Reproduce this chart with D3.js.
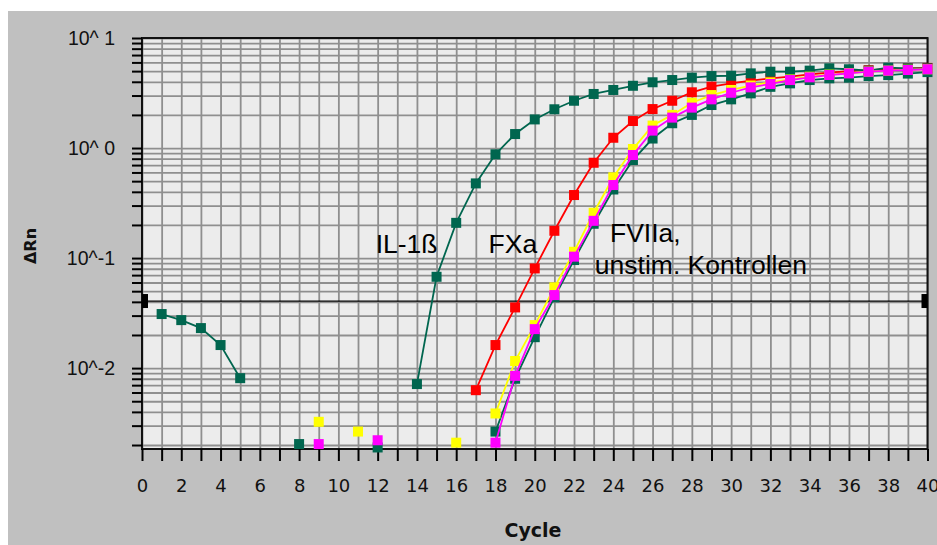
<!DOCTYPE html>
<html>
<head>
<meta charset="utf-8">
<script src="https://d3js.org/d3.v7.min.js"></script>
<style>
  body { margin: 0; background: #fff; }
  svg { display: block; }
  .grid line { stroke: #8f8f8f; stroke-width: 1.8; }
  .grid path { display: none; }
  .axis path { display: none; }
  .axis line { stroke: #000; stroke-width: 2; }
</style>
</head>
<body>
<div id="chart"></div>
<script>
  // cycle numbers on x
  const cycles = [0, 1, 2, 3, 4, 5, 6, 7, 8, 9, 10, 11, 12, 13, 14, 15, 16, 17, 18, 19, 20,
    21, 22, 23, 24, 25, 26, 27, 28, 29, 30, 31, 32, 33, 34, 35, 36, 37, 38, 39, 40];

  // delta Rn per cycle, null = not plotted
  const il1b = [null, 0.031, 0.0273, 0.0231, 0.0162, 0.0081, null, null, 0.00204, null, null,
    null, 0.0019, null, 0.00716, 0.0676, 0.209, 0.477, 0.877, 1.34, 1.82,
    2.25, 2.69, 3.1, 3.37, 3.68, 3.96, 4.15, 4.36, 4.51, 4.54,
    4.77, 4.94, 4.94, 5.05, 5.3, 5.2, 5.05, 5.37, 5.3, 5.3];
  const fxa = [null, null, null, null, null, null, null, null, null, null, null,
    null, null, null, null, null, null, 0.0063, 0.0162, 0.0356, 0.0805,
    0.177, 0.374, 0.735, 1.24, 1.76, 2.26, 2.69, 3.21, 3.61, 3.87,
    4.09, 4.3, 4.45, 4.67, 4.84, 5.0, 5.1, 5.2, 5.3, 5.35];
  const control = [null, null, null, null, null, null, null, null, null, null, null,
    null, null, null, null, null, null, null, 0.00265, 0.008, 0.0191,
    0.044, 0.096, 0.205, 0.42, 0.778, 1.22, 1.68, 2.0, 2.46, 2.77,
    3.14, 3.6, 3.87, 4.15, 4.3, 4.36, 4.51, 4.6, 4.75, 4.9];
  const fviia = [null, null, null, null, null, null, null, null, null, 0.00325, null,
    0.00265, null, null, null, null, 0.0021, null, 0.00387, 0.0116, 0.0246,
    0.0542, 0.114, 0.258, 0.542, 0.98, 1.6, 2.0, 2.58, 3.03, 3.37,
    3.7, 3.95, 4.2, 4.45, 4.65, 4.8, 4.95, 5.05, 5.15, 5.2];
  const unstim = [null, null, null, null, null, null, null, null, null, 0.00204, null,
    null, 0.00221, null, null, null, null, null, 0.0021, 0.0085, 0.0226,
    0.0461, 0.103, 0.218, 0.461, 0.864, 1.44, 1.89, 2.33, 2.77, 3.18,
    3.56, 3.82, 4.15, 4.39, 4.61, 4.77, 4.94, 5.05, 5.12, 5.2];

  const seriesList = [
    { values: fxa, color: "#ff0000" },
    { values: control, color: "#00664f" },
    { values: il1b, color: "#00664f" },
    { values: fviia, color: "#ffff00" },
    { values: unstim, color: "#ff00ff" }
  ];

  const threshold = 0.0407;
  const decadeTicks = [0.01, 0.1, 1, 10];
  const decadeLabels = ["10^-2", "10^-1", "10^ 0", "10^ 1"];

  // labels in the plot: [text, cycle, value]
  const notes = [
    ["IL-1ß", 11.9, 0.111],
    ["FXa", 17.65, 0.111],
    ["FVIIa,", 23.83, 0.14],
    ["unstim. Kontrollen", 23.06, 0.0723]
  ];

  const W = 937, H = 545;
  const svg = d3.select("#chart").append("svg").attr("width", W).attr("height", H);

  svg.append("rect").attr("x", 8).attr("y", 11).attr("width", W - 8).attr("height", H - 11)
    .attr("fill", "#c0c0c0");

  const x = d3.scaleLinear().domain([0, 40]).range([142, 927.5]);
  const y = d3.scaleLog().domain([0.00184, 10]).range([449, 38]);

  const pLeft = x(0), pRight = x(40), pTop = y(10), pBottom = y(0.00184);

  svg.append("rect").attr("x", pLeft).attr("y", pTop)
    .attr("width", pRight - pLeft).attr("height", pBottom - pTop).attr("fill", "#ececec");

  // minor log values 2..9 per decade, plus decades
  let yTicks = [];
  [0.001, 0.01, 0.1, 1].forEach(function (d) {
    for (let m = 1; m <= 10; m++) {
      let v = +(d * m).toPrecision(3);
      if (v >= 0.00184 && yTicks.indexOf(v) < 0) yTicks.push(v);
    }
  });

  svg.append("g").attr("class", "grid")
    .attr("transform", "translate(0," + pBottom + ")")
    .call(d3.axisBottom(x).tickValues(cycles).tickSize(-(pBottom - pTop)).tickFormat(""));
  svg.append("g").attr("class", "grid")
    .attr("transform", "translate(" + pLeft + ",0)")
    .call(d3.axisLeft(y).tickValues(yTicks).tickSize(-(pRight - pLeft)).tickFormat(""));

  // plot frame
  svg.append("rect").attr("x", pLeft).attr("y", pTop)
    .attr("width", pRight - pLeft).attr("height", pBottom - pTop)
    .attr("fill", "none").attr("stroke", "#111").attr("stroke-width", 2);

  const xAxis = svg.append("g").attr("class", "axis")
    .attr("transform", "translate(0," + pBottom + ")")
    .call(d3.axisBottom(x).tickValues(cycles).tickSize(12).tickPadding(18)
      .tickFormat(function (d) { return d % 2 === 0 ? d : ""; }));
  xAxis.selectAll("text").attr("font-family", "DejaVu Sans").attr("font-size", 18)
    .attr("fill", "#111");

  const yAxis = svg.append("g").attr("class", "axis")
    .attr("transform", "translate(" + pLeft + ",0)")
    .call(d3.axisLeft(y).tickValues(yTicks).tickSize(10).tickPadding(17)
      .tickFormat(function (d) {
        let i = decadeTicks.indexOf(d);
        return i >= 0 ? decadeLabels[i] : "";
      }));
  yAxis.selectAll("text").attr("font-family", "Liberation Sans").attr("font-size", 19.5)
    .attr("fill", "#111");

  // threshold
  svg.append("line").attr("x1", pLeft).attr("x2", pRight)
    .attr("y1", y(threshold)).attr("y2", y(threshold))
    .attr("stroke", "#000").attr("stroke-width", 1.3);
  svg.selectAll(".thr").data([pLeft + 3, pRight - 3]).enter().append("rect")
    .attr("x", function (d) { return d - 3; }).attr("y", y(threshold) - 7)
    .attr("width", 6).attr("height", 14).attr("fill", "#000");

  const line = d3.line()
    .defined(function (d) { return d.v !== null; })
    .x(function (d) { return x(d.c); })
    .y(function (d) { return y(d.v); });

  seriesList.forEach(function (s) {
    let pts = cycles.map(function (c, i) { return { c: c, v: s.values[i] }; });
    let g = svg.append("g");
    g.append("path").datum(pts).attr("d", line)
      .attr("fill", "none").attr("stroke", s.color).attr("stroke-width", 1.8);
    g.selectAll("rect").data(pts.filter(function (d) { return d.v !== null; }))
      .enter().append("rect")
      .attr("x", function (d) { return x(d.c) - 5; })
      .attr("y", function (d) { return y(d.v) - 5; })
      .attr("width", 10).attr("height", 10)
      .attr("fill", s.color);
  });

  svg.selectAll(".note").data(notes).enter().append("text")
    .attr("x", function (d) { return x(d[1]); })
    .attr("y", function (d) { return y(d[2]); })
    .attr("font-family", "Liberation Sans").attr("font-size", 26.5)
    .attr("fill", "#000")
    .text(function (d) { return d[0]; });

  svg.append("text").attr("x", 533).attr("y", 537).attr("text-anchor", "middle")
    .attr("font-family", "DejaVu Sans").attr("font-weight", "bold").attr("font-size", 19)
    .attr("fill", "#111").text("Cycle");

  svg.append("text").attr("transform", "translate(36,246) rotate(-90)")
    .attr("text-anchor", "middle")
    .attr("font-family", "DejaVu Sans").attr("font-weight", "bold").attr("font-size", 16)
    .attr("fill", "#111").text("ΔRn");
</script>
</body>
</html>
